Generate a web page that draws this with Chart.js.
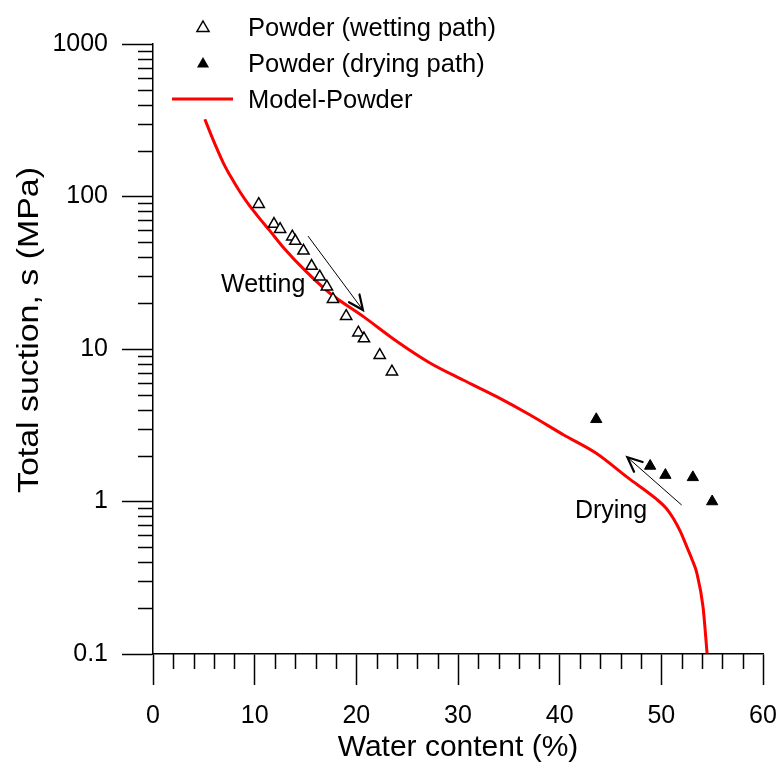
<!DOCTYPE html>
<html>
<head>
<meta charset="utf-8">
<script src="https://cdn.jsdelivr.net/npm/chart.js@4.4.1/dist/chart.umd.min.js"></script>
<style>
html,body{margin:0;padding:0;background:#fff;}
#wrap{width:780px;height:762px;}
</style>
</head>
<body>
<div id="wrap"><canvas id="c" width="780" height="762"></canvas></div>
<script>
// ---- data ----
const wettingW = [10.4, 11.9, 12.5, 13.7, 14.0, 14.8, 15.6, 16.4, 17.1, 17.7, 19.0, 20.2, 20.75, 22.3, 23.5];
const wettingS = [89, 66, 61, 54.5, 51, 44, 35, 29.8, 25.6, 21.2, 16.4, 12.8, 11.7, 9.1, 7.1];
const dryingW = [43.6, 48.9, 50.4, 53.1, 55.0];
const dryingS = [3.46, 1.71, 1.49, 1.44, 1.0];
const modelW = [5.1, 6.0, 6.9, 7.7, 8.56, 9.4, 10.2, 11.5, 12.8, 15.0, 17.4, 20.7, 24.0, 27.2, 30.5, 33.8, 37.1, 40.4, 43.6, 46.6, 49.5, 50.5, 51.2, 51.9, 52.5, 53.0, 53.5, 54.1, 54.5];
const modelS = [321, 228, 167, 133, 107, 88.7, 75.8, 59.5, 46.5, 32.5, 23.2, 16.3, 11.2, 8.13, 6.26, 4.87, 3.69, 2.73, 2.07, 1.45, 1.04, 0.90, 0.77, 0.63, 0.506, 0.42, 0.338, 0.204, 0.101];
const xMajorTicks = [0, 10, 20, 30, 40, 50, 60];
const yMajorTicks = [0.1, 1, 10, 100, 1000];
const yTickLabels = ['0.1', '1', '10', '100', '1000'];
const xTitle = 'Water content (%)';
const yTitle = 'Total suction, s (MPa)';
const legendLabels = ['Powder (wetting path)', 'Powder (drying path)', 'Model-Powder'];
const annWetting = {text: 'Wetting', x: 6.69, y: 23.7, arrowFrom: [15.25, 55], arrowTo: [20.65, 18.0]};
const annDrying = {text: 'Drying', x: 41.5, y: 0.78, arrowFrom: [52.0, 0.948], arrowTo: [46.66, 1.95]};

const FONT = '"Liberation Sans", Arial, sans-serif';
const toXY = (xs, ys) => xs.map((v, i) => ({x: v, y: ys[i]}));

function arrow(ctx, x1, y1, x2, y2) {
  ctx.save();
  ctx.strokeStyle = '#000';
  ctx.lineWidth = 1;
  ctx.beginPath(); ctx.moveTo(x1, y1); ctx.lineTo(x2, y2); ctx.stroke();
  const ang = Math.atan2(y2 - y1, x2 - x1);
  const L = 16, a = 0.42;
  ctx.lineWidth = 2.2;
  ctx.lineCap = 'round';
  ctx.beginPath();
  ctx.moveTo(x2 - L * Math.cos(ang - a), y2 - L * Math.sin(ang - a));
  ctx.lineTo(x2, y2);
  ctx.lineTo(x2 - L * Math.cos(ang + a), y2 - L * Math.sin(ang + a));
  ctx.stroke();
  ctx.restore();
}

function tri(ctx, cx, cy, r, fill) {
  ctx.beginPath();
  ctx.moveTo(cx, cy - r);
  ctx.lineTo(cx + r * 0.866, cy + r * 0.5);
  ctx.lineTo(cx - r * 0.866, cy + r * 0.5);
  ctx.closePath();
  if (fill) { ctx.fillStyle = '#000'; ctx.fill(); }
  else { ctx.fillStyle = '#fff'; ctx.fill(); ctx.strokeStyle = '#000'; ctx.lineWidth = 1.5; ctx.stroke(); }
}

const extras = {
  id: 'extras',
  afterDraw(chart) {
    const ctx = chart.ctx;
    const xs = chart.scales.x, ys = chart.scales.y;
    ctx.save();
    // minor ticks
    ctx.strokeStyle = '#000';
    ctx.lineWidth = 1.5;
    ctx.beginPath();
    for (let v = 0; v <= 60; v += 2) {
      if (v % 10 === 0) continue;
      const px = Math.round(xs.getPixelForValue(v)) + 0.5;
      ctx.moveTo(px, xs.top); ctx.lineTo(px, xs.top + 15);
    }
    for (let d = 0.1; d < 1000; d *= 10) {
      for (let m = 2; m <= 9; m++) {
        const py = Math.round(ys.getPixelForValue(d * m)) + 0.5;
        ctx.moveTo(ys.right, py); ctx.lineTo(ys.right - 15, py);
      }
    }
    ctx.stroke();

    // annotations
    ctx.fillStyle = '#000';
    ctx.font = '25px ' + FONT;
    ctx.textBaseline = 'alphabetic';
    ctx.textAlign = 'left';
    [annWetting, annDrying].forEach(a => {
      ctx.fillText(a.text, xs.getPixelForValue(a.x), ys.getPixelForValue(a.y));
      arrow(ctx, xs.getPixelForValue(a.arrowFrom[0]), ys.getPixelForValue(a.arrowFrom[1]),
                 xs.getPixelForValue(a.arrowTo[0]), ys.getPixelForValue(a.arrowTo[1]));
    });

    // legend
    const lx = 203, tx = 248;
    const rows = [27, 63, 99];
    tri(ctx, lx, rows[0] + 1, 7, false);
    tri(ctx, lx, rows[1] + 1, 7, true);
    ctx.strokeStyle = '#ff0000'; ctx.lineWidth = 3;
    ctx.beginPath(); ctx.moveTo(172, rows[2]); ctx.lineTo(233, rows[2]); ctx.stroke();
    ctx.fillStyle = '#000';
    ctx.font = '25.5px ' + FONT;
    ctx.textBaseline = 'alphabetic';
    legendLabels.forEach((t, i) => ctx.fillText(t, tx, rows[i] + 9));

    // axis titles
    ctx.textAlign = 'center';
    ctx.font = '30px ' + FONT;
    ctx.fillText(xTitle, (xs.left + xs.right) / 2, 756);
    ctx.save();
    ctx.translate(38, 330);
    ctx.rotate(-Math.PI / 2);
    ctx.scale(1.13, 1);
    ctx.fillText(yTitle, 0, 0);
    ctx.restore();
    ctx.restore();
  }
};

new Chart(document.getElementById('c'), {
  type: 'scatter',
  data: {
    datasets: [
      {
        label: legendLabels[2], data: toXY(modelW, modelS), showLine: true,
        borderColor: '#ff0000', borderWidth: 3, pointRadius: 0, cubicInterpolationMode: 'monotone', fill: false, order: 3
      },
      {
        label: legendLabels[0], data: toXY(wettingW, wettingS), pointStyle: 'triangle',
        pointRadius: 6.5, pointBackgroundColor: '#fff', pointBorderColor: '#000', pointBorderWidth: 1.5, order: 1
      },
      {
        label: legendLabels[1], data: toXY(dryingW, dryingS), pointStyle: 'triangle',
        pointRadius: 6.5, pointBackgroundColor: '#000', pointBorderColor: '#000', pointBorderWidth: 1, order: 2
      }
    ]
  },
  options: {
    responsive: false,
    animation: false,
    events: [],
    layout: {padding: {top: 44, right: 17, left: 0, bottom: 0}},
    plugins: {legend: {display: false}, tooltip: {enabled: false}, title: {display: false}},
    scales: {
      x: {
        type: 'linear', min: 0, max: 60,
        afterBuildTicks: s => { s.ticks = xMajorTicks.map(v => ({value: v})); },
        afterFit: s => { s.height = 108; s.paddingLeft = 0; s.paddingRight = 0; },
        grid: {drawOnChartArea: false, drawTicks: true, tickLength: 31, tickColor: '#000', tickWidth: 1.5},
        border: {display: true, color: '#000', width: 1.5},
        ticks: {color: '#000', font: {family: FONT, size: 25}, padding: 16, maxRotation: 0, autoSkip: false},
        title: {display: false}
      },
      y: {
        type: 'logarithmic', min: 0.1, max: 1000,
        afterBuildTicks: s => { s.ticks = yMajorTicks.map(v => ({value: v})); },
        afterFit: s => { s.width = 153; s.paddingTop = 0; s.paddingBottom = 0; },
        grid: {drawOnChartArea: false, drawTicks: true, tickLength: 31, tickColor: '#000', tickWidth: 1.5},
        border: {display: true, color: '#000', width: 1.5},
        ticks: {
          color: '#000', font: {family: FONT, size: 25}, padding: 14, autoSkip: false,
          callback: (v) => { const i = yMajorTicks.indexOf(v); return i >= 0 ? yTickLabels[i] : ''; }
        },
        title: {display: false}
      }
    }
  },
  plugins: [extras]
});
</script>
</body>
</html>
